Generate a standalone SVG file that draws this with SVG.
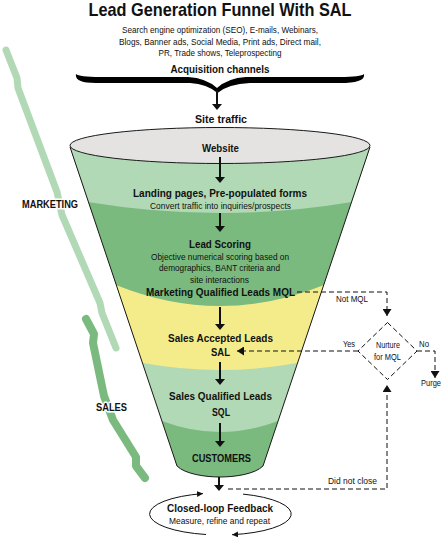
<svg xmlns="http://www.w3.org/2000/svg" width="446" height="538" viewBox="0 0 446 538">
<defs>
<style>
text{font-family:"Liberation Sans Narrow","Liberation Sans",Arial,sans-serif;fill:#111;text-anchor:middle}
.b{font-weight:bold}
.t{font-size:18.5px;font-weight:bold}
.h{font-size:11px;font-weight:bold}
.s{font-size:9px}
.sm{font-size:8.5px}
.halo{stroke:#fff;stroke-width:3;paint-order:stroke;stroke-linejoin:round}
.arr{stroke:#111;stroke-width:2;fill:none;marker-end:url(#ah)}
.dash{stroke:#111;stroke-width:1;fill:none;stroke-dasharray:5 3}
.loop{stroke:#111;stroke-width:1;fill:none;marker-end:url(#sh)}
.lg{fill:#b2d9b5}
.mg{fill:#7aba7e}
.yl{fill:#f4ec8a}
</style>
<marker id="ah" viewBox="0 0 6 10" refX="2" refY="5" markerWidth="6" markerHeight="10" markerUnits="userSpaceOnUse" orient="auto"><path d="M0 0 L6 5 L0 10 Z" fill="#111"/></marker>
<marker id="dh" viewBox="0 0 7 9" refX="7" refY="4.5" markerWidth="7" markerHeight="9" markerUnits="userSpaceOnUse" orient="auto"><path d="M0 0 L7 4.5 L0 9 Z" fill="#111"/></marker>
<marker id="sh" viewBox="0 0 6 6" refX="6" refY="3" markerWidth="6" markerHeight="6" markerUnits="userSpaceOnUse" orient="auto"><path d="M0 0 L6 3 L0 6 Z" fill="#111"/></marker>
<clipPath id="fc"><path d="M70 147 L177 466 C185 474 205 477 220 477 C235 477 255 474 263 466 L370 147 Z"/></clipPath>
</defs>

<g id="header">
<text class="t" x="220" y="16" textLength="263" lengthAdjust="spacingAndGlyphs">Lead Generation Funnel With SAL</text>
<text class="s" x="220" y="33" textLength="196" lengthAdjust="spacingAndGlyphs">Search engine optimization (SEO), E-mails, Webinars,</text>
<text class="s" x="220" y="44.5" textLength="202" lengthAdjust="spacingAndGlyphs">Blogs, Banner ads, Social Media, Print ads, Direct mail,</text>
<text class="s" x="220" y="56" textLength="123" lengthAdjust="spacingAndGlyphs">PR, Trade shows, Teleprospecting</text>
</g>

<g id="acquisition">
<text class="h" x="220" y="73" textLength="99" lengthAdjust="spacingAndGlyphs">Acquisition channels</text>
<path d="M76 74 Q79 77 100 77 L188 77 Q206 78 217 88 Q228 78 246 77 L340 77 Q361 77 364 74 Q366 83 340 83 L250 83 Q228 84 217.5 93 Q207 84 190 83 L100 83 Q74 84 76 74 Z" fill="#000"/>
</g>

<g id="braces">
<path d="M6 50 L17 78 L18 88 L57 192 L62 215 L100 303 L102 313 L116 348" fill="none" stroke="#b2d9b5" stroke-width="7" stroke-linecap="round" stroke-linejoin="round"/>
<path d="M86 319 L94 334 L93 343 L104 396 L113 420 L136 457 L136 466 L145 478" fill="none" stroke="#7aba7e" stroke-width="8" stroke-linecap="round" stroke-linejoin="round"/>
<text id="marketing" class="h halo" x="50" y="208" textLength="56" lengthAdjust="spacingAndGlyphs">MARKETING</text>
<text id="sales" class="h halo" x="111.5" y="411" textLength="31" lengthAdjust="spacingAndGlyphs">SALES</text>
</g>

<g id="funnel">
<g clip-path="url(#fc)">
<rect class="mg" x="0" y="100" width="446" height="400"/>
<path class="lg" d="M0 0 H446 V421 L278 421 Q220 443 162 421 L0 421 Z"/>
<path class="yl" d="M0 0 H446 V363 L297 363 Q220 377 143 363 L0 363 Z"/>
<path class="mg" d="M0 0 H446 V285 L324 285 Q220 327 116 285 L0 285 Z"/>
<path class="lg" d="M0 0 H446 V202 L352 202 Q220 224 88 202 L0 202 Z"/>
</g>
<path d="M70 147 L177 466 C185 474 205 477 220 477 C235 477 255 474 263 466 L370 147" fill="none" stroke="#1a1a1a" stroke-width="1"/>
<ellipse cx="220" cy="145.5" rx="150" ry="18" fill="#e5e2e2" stroke="#1a1a1a" stroke-width="1"/>
</g>

<g id="site-traffic"><text class="h" x="221" y="123" textLength="52" lengthAdjust="spacingAndGlyphs">Site traffic</text></g>
<g id="website"><text class="h" x="220.5" y="152" textLength="37" lengthAdjust="spacingAndGlyphs">Website</text></g>
<g id="landing">
<text class="h" x="220" y="197" textLength="174" lengthAdjust="spacingAndGlyphs">Landing pages, Pre-populated forms</text>
<text class="s" x="220.5" y="209" textLength="141" lengthAdjust="spacingAndGlyphs">Convert traffic into inquiries/prospects</text>
</g>
<g id="lead-scoring">
<text class="h" x="220" y="248" textLength="62" lengthAdjust="spacingAndGlyphs">Lead Scoring</text>
<text class="s" x="220" y="259.5" textLength="138" lengthAdjust="spacingAndGlyphs">Objective numerical scoring based on</text>
<text class="s" x="219.5" y="271" textLength="121" lengthAdjust="spacingAndGlyphs">demographics, BANT criteria and</text>
<text class="s" x="219.5" y="282.5" textLength="59" lengthAdjust="spacingAndGlyphs">site interactions</text>
<text class="h" x="220.5" y="296" textLength="149" lengthAdjust="spacingAndGlyphs">Marketing Qualified Leads MQL</text>
</g>
<g id="sal">
<text class="h" x="220.5" y="342" textLength="105" lengthAdjust="spacingAndGlyphs">Sales Accepted Leads</text>
<text class="h" x="220.5" y="356" textLength="19" lengthAdjust="spacingAndGlyphs">SAL</text>
</g>
<g id="sql">
<text class="h" x="220.5" y="400" textLength="103" lengthAdjust="spacingAndGlyphs">Sales Qualified Leads</text>
<text class="h" x="221" y="416" textLength="18" lengthAdjust="spacingAndGlyphs">SQL</text>
</g>
<g id="customers"><text class="h" x="221.5" y="462" textLength="59" lengthAdjust="spacingAndGlyphs">CUSTOMERS</text></g>

<g id="nurture">
<path d="M387.5 322.5 L417 351 L387.5 379.5 L358 351 Z" class="dash"/>
<text class="sm" x="388" y="348" textLength="24" lengthAdjust="spacingAndGlyphs">Nurture</text>
<text class="sm" x="387.5" y="360" textLength="27" lengthAdjust="spacingAndGlyphs">for MQL</text>
</g>
<g id="purge"><text class="s" x="431" y="386" textLength="20" lengthAdjust="spacingAndGlyphs">Purge</text></g>

<g id="feedback">
<text class="h" x="220" y="512" textLength="106" lengthAdjust="spacingAndGlyphs">Closed-loop Feedback</text>
<text class="s" x="219.5" y="524" textLength="101" lengthAdjust="spacingAndGlyphs">Measure, refine and repeat</text>
<path class="loop" d="M206 534.5 A71 21 0 0 1 203 493.6"/>
<path class="loop" d="M243 494.1 A71 21 0 0 1 232 534.7"/>
</g>

<g id="connectors">
<line class="arr" x1="217" y1="90" x2="217" y2="106"/>
<line class="arr" x1="220" y1="157" x2="220" y2="179"/>
<line class="arr" x1="220" y1="213" x2="220" y2="228"/>
<line class="arr" x1="220" y1="307" x2="220" y2="326"/>
<line class="arr" x1="220" y1="362" x2="220" y2="381"/>
<line class="arr" x1="220" y1="423" x2="220" y2="443"/>
<line class="arr" x1="219" y1="477" x2="219" y2="487"/>
<path class="dash" d="M297 292 H387 V316" marker-end="url(#dh)"/>
<path class="dash" d="M358 351 H237" marker-end="url(#dh)"/>
<path class="dash" d="M417 351 H435 V378" marker-end="url(#dh)"/>
<path class="dash" d="M228 489 H387 V385" marker-end="url(#dh)"/>
<text class="s" x="352" y="302" textLength="32" lengthAdjust="spacingAndGlyphs">Not MQL</text>
<text class="s" x="349" y="347" textLength="12" lengthAdjust="spacingAndGlyphs">Yes</text>
<text class="s" x="424" y="347" textLength="10" lengthAdjust="spacingAndGlyphs">No</text>
<text class="s" x="352.5" y="484" textLength="49" lengthAdjust="spacingAndGlyphs">Did not close</text>
</g>
</svg>
